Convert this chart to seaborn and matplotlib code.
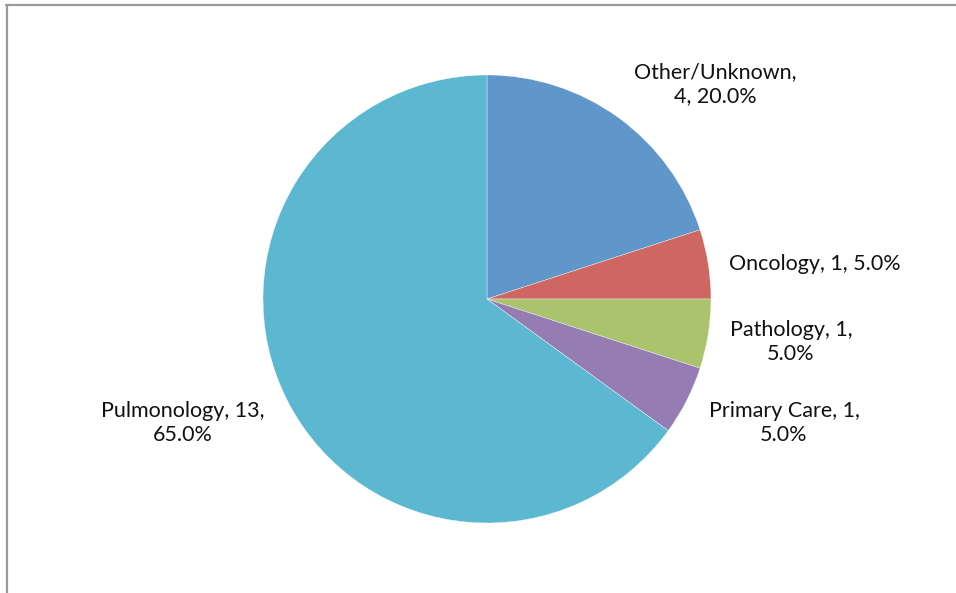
import matplotlib
matplotlib.use("Agg")
import matplotlib.pyplot as plt
from matplotlib.lines import Line2D
import seaborn as sns
import numpy as np

# Specialty breakdown
categories = ["Other/Unknown", "Oncology", "Pathology", "Primary Care", "Pulmonology"]
counts = [4, 1, 1, 1, 13]
colors = ["#5F97CA", "#CE6761", "#A9C46D", "#957DB4", "#5BB8D0"]

# Label text layout: line breaks and anchor points (in pie-radius units)
label_wrap = ["{name},\n{n}, {p:.1f}%", "{name}, {n}, {p:.1f}%", "{name}, {n},\n{p:.1f}%",
              "{name}, {n},\n{p:.1f}%", "{name}, {n},\n{p:.1f}%"]
label_pos = [(1.018, 0.960), (1.464, 0.156), (1.357, -0.192), (1.326, -0.554), (-1.357, -0.554)]

sns.set_theme(style="white")
plt.rcParams["font.family"] = ["Lato", "DejaVu Sans"]

W, H, DPI = 956, 593, 100
fig = plt.figure(figsize=(W / DPI, H / DPI), dpi=DPI)
fig.patch.set_facecolor("white")
ax = fig.add_axes([0, 0, 1, 1])

cx, cy, r = 487, 299, 224  # centre (px from left/top) and radius in px
ax.pie(counts, colors=sns.color_palette(colors), startangle=90, counterclock=False,
       radius=1.0, center=(0, 0),
       wedgeprops=dict(edgecolor="white", linewidth=0.25))

ax.set_xlim(-cx / r, (W - cx) / r)
ax.set_ylim(-(H - cy) / r, cy / r)
ax.set_aspect("auto")
ax.axis("off")

total = sum(counts)
for name, n, fmt, (lx, ly) in zip(categories, counts, label_wrap, label_pos):
    ax.text(lx, ly, fmt.format(name=name, n=n, p=100 * n / total),
            ha="center", va="center", fontsize=15.5, color="#111111",
            linespacing=1.27)

# Chart-area frame (top and left edges visible)
fig.add_artist(Line2D([6 / W, 1.0], [1 - 5 / H, 1 - 5 / H], color="#9a9a9a", lw=1.6,
                      transform=fig.transFigure))
fig.add_artist(Line2D([7 / W, 7 / W], [0.0, 1 - 5 / H], color="#9a9a9a", lw=1.6,
                      transform=fig.transFigure))

fig.savefig("out.png", dpi=DPI, facecolor="white")
